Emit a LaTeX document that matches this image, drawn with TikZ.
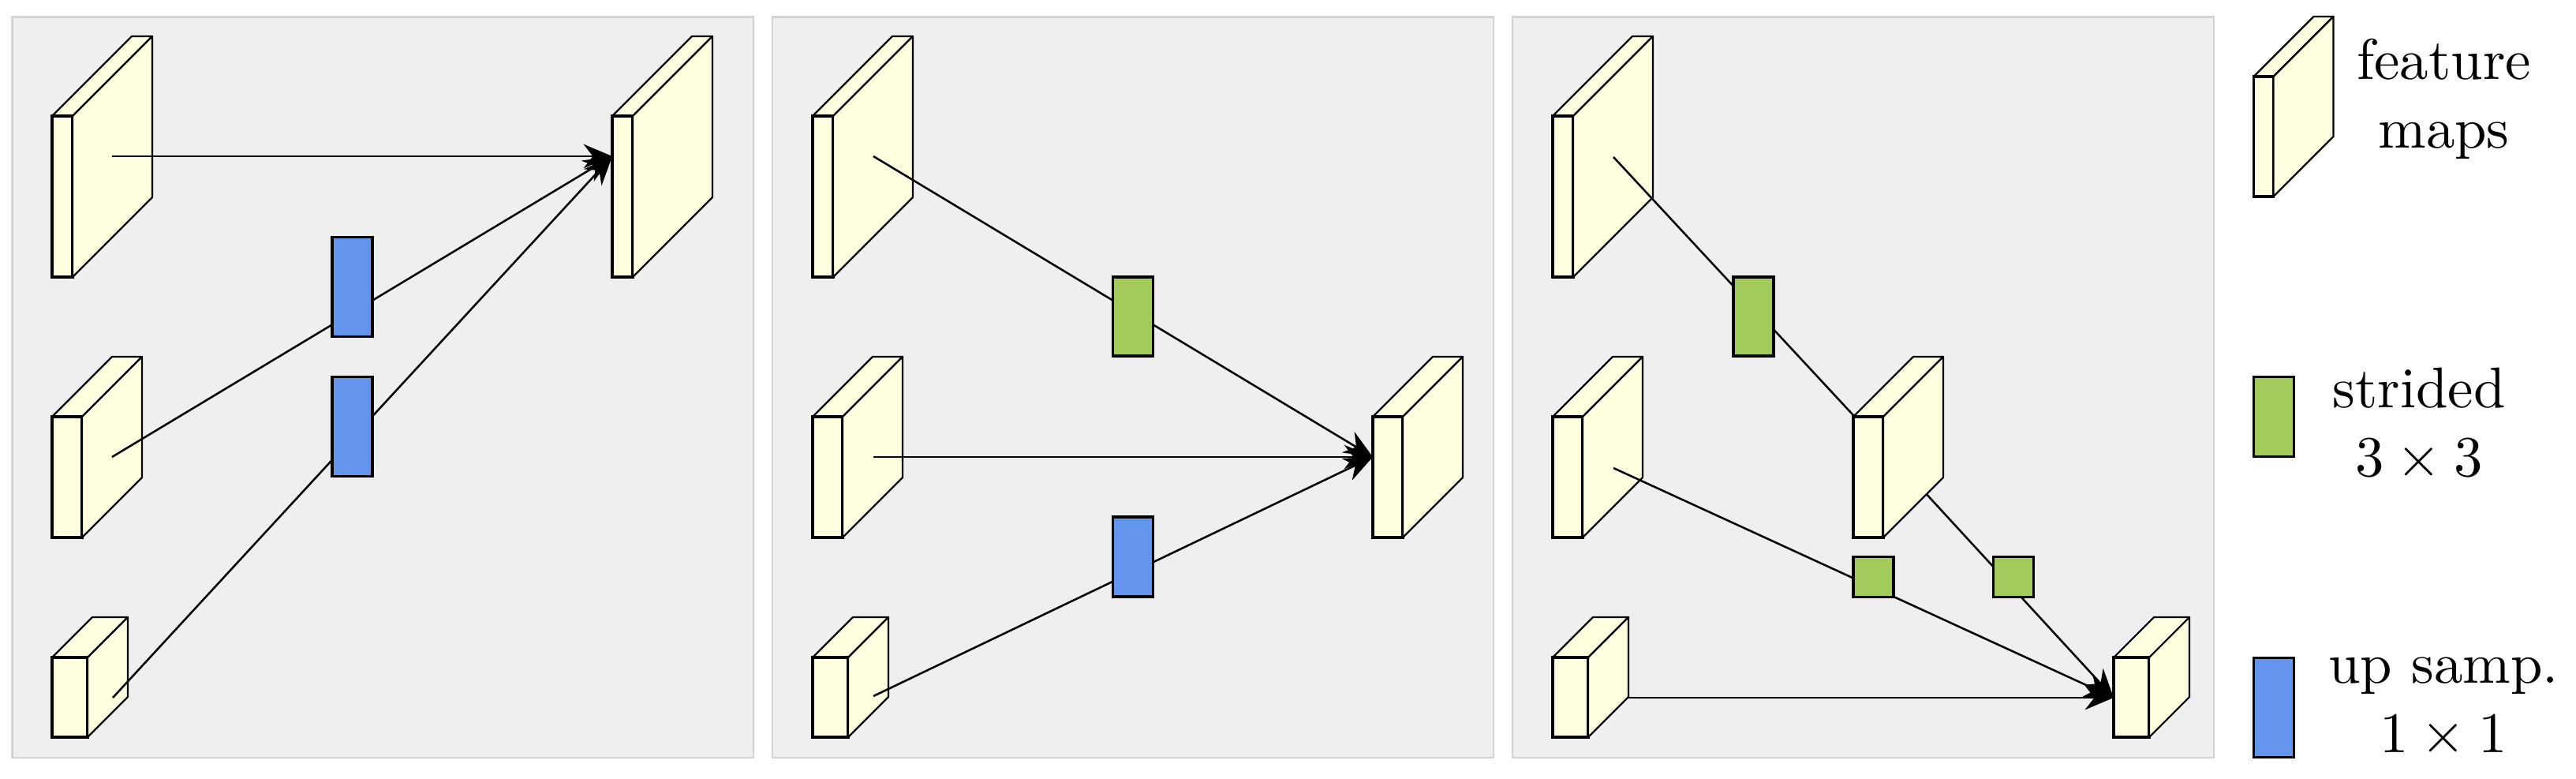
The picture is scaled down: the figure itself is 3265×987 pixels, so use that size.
\documentclass[tikz,border=0pt]{standalone}
\usepackage{amsmath}
\usepackage{tikz}
\usetikzlibrary{arrows.meta}

\definecolor{mapfill}{HTML}{FFFFE0}
\definecolor{upfill}{HTML}{6495ED}
\definecolor{strfill}{HTML}{A2CB5C}
\definecolor{panelfill}{HTML}{EFEFEF}
\definecolor{panelline}{HTML}{D3D3D3}

% feature map: front top-left x, y; width; height; depth
\newcommand{\fmap}[5]{%
  \begin{scope}[shift = {(#1,#2)}]
    \filldraw [face] (0,0) -- (#5,-#5) -- (#5+#3,-#5) -- (#3,0) -- cycle;
    \filldraw [front] (0,0) rectangle (#3,#4);
    \filldraw [face] (#3,0) -- (#5+#3,-#5) -- (#5+#3,#4-#5) -- (#3,#4) -- cycle;
  \end{scope}}

\begin{document}
\begin{tikzpicture}[
    x = 0.1374pt, y = -0.1374pt,
    panel/.style = {draw = panelline, fill = panelfill, line width = 0.3pt},
    face/.style = {draw, fill = mapfill, line width = 0.3pt, line join = round},
    front/.style = {draw, fill = mapfill, line width = 0.5pt},
    conn/.style = {line width = 0.35pt},
    flow/.style = {conn, -{Stealth[length = 5pt, width = 4.2pt]}},
    op/.style = {draw, line width = 0.5pt, inner sep = 0pt, outer sep = 0pt,
      minimum width = 7pt},
    upsamp/.style = {op, fill = upfill},
    strided/.style = {op, fill = strfill},
    legendtext/.style = {align = center, anchor = base, inner sep = 0pt}
  ]
  \useasboundingbox (0,0) rectangle (3265,987);

  % panel 1: up sampling
  \draw [panel] (15.5,21.5) rectangle (955,960);
  \fmap{66}{147}{26}{204}{101}
  \fmap{66}{528}{38}{153}{76}
  \fmap{66}{833}{45}{101}{51}
  \fmap{776}{147}{26}{204}{101}
  \coordinate (p1a) at (142,198);
  \coordinate (p1b) at (142,579);
  \coordinate (p1c) at (143,884);
  \coordinate (p1t) at (776,198);
  \draw [flow] (p1a) -- (p1t);
  \draw [flow] (p1b) -- (p1t);
  \draw [flow] (p1c) -- (p1t);
  \node [upsamp, minimum height = 17.3pt] (p1up1) at (446.5,363.5) {};
  \node [upsamp, minimum height = 17.3pt] (p1up2) at (446.5,540.5) {};

  % panel 2: strided and up sampling
  \draw [panel] (979,21.5) rectangle (1893,960);
  \fmap{1030}{147}{26}{204}{101}
  \fmap{1030}{528}{38}{153}{76}
  \fmap{1030}{833}{45}{101}{51}
  \fmap{1740}{528}{38}{153}{76}
  \coordinate (p2a) at (1107,198);
  \coordinate (p2b) at (1107,579);
  \coordinate (p2c) at (1107,882);
  \coordinate (p2t) at (1740,579);
  \draw [flow] (p2a) -- (p2t);
  \draw [flow] (p2b) -- (p2t);
  \draw [flow] (p2c) -- (p2t);
  \node [strided, minimum height = 13.8pt] (p2str) at (1436,401) {};
  \node [upsamp, minimum height = 13.8pt] (p2up) at (1436,705.5) {};

  % panel 3: strided only
  \draw [panel] (1917,21.5) rectangle (2806,960);
  \fmap{1968}{147}{26}{204}{101}
  \fmap{1968}{528}{38}{153}{76}
  \fmap{2679}{833}{45}{101}{51}
  \coordinate (p3a) at (2045,199);
  \coordinate (p3b) at (2045,593);
  \coordinate (p3c) at (2045,884);
  \coordinate (p3m) at (2426,609);
  \coordinate (p3t) at (2679,884);
  \draw [conn] (p3a) -- (p3m);
  \draw [flow] (p3m) -- (p3t);
  \draw [flow] (p3b) -- (p3t);
  \draw [flow] (p3c) -- (p3t);
  \fmap{1968}{833}{45}{101}{51}
  \fmap{2349}{528}{38}{153}{76}
  \node [strided, minimum height = 13.8pt] (p3str) at (2222.5,401) {};
  \node [strided, minimum height = 7pt] (p3s1) at (2374.5,731) {};
  \node [strided, minimum height = 7pt] (p3s2) at (2552,731) {};

  % legend
  \fmap{2856.5}{97}{25}{152}{76}
  \node [strided, minimum height = 13.9pt] (lgstr) at (2882,528) {};
  \node [upsamp, minimum height = 17.3pt] (lgup) at (2882,896.5) {};
  \node [legendtext] (lgmap) at (3097.5,188) {feature\\maps};
  \node [legendtext] (lgstrtxt) at (3066,604) {strided\\$3 \times 3$};
  \node [legendtext] (lguptxt) at (3097,953) {up samp.\\$1 \times 1$};
\end{tikzpicture}
\end{document}
